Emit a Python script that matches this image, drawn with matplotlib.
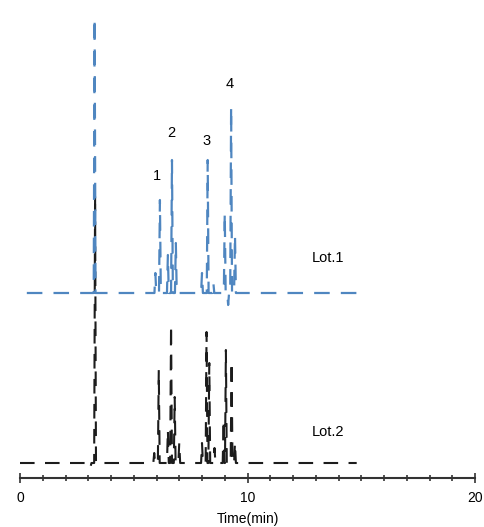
import matplotlib.pyplot as plt
from matplotlib.ticker import MultipleLocator

plt.rcParams["font.family"] = ["Liberation Sans", "DejaVu Sans"]

# retention time (min) and peak height (arbitrary units)
lot1_start, lot1_end = 0.3, 15.0
lot1_times = [3.28, 5.95, 6.15, 6.5, 6.68, 6.85, 8.0, 8.25, 8.5, 9.0, 9.15, 9.28, 9.45]
lot1_heights = [275, 20, 93, 38, 133, 50, 20, 133, 10, 80, -12, 186, 58]

lot2_start, lot2_end = 0.0, 14.8
lot2_times = [3.1, 3.3, 5.9, 6.1, 6.5, 6.64, 6.8, 7.0, 8.0, 8.2, 8.32, 8.55, 8.95, 9.05, 9.3, 9.45]
lot2_heights = [-4, 268, 10, 93, 33, 138, 66, 20, 20, 131, 100, 15, 43, 113, 101, 20]

peak_labels = ["1", "2", "3", "4"]
peak_label_times = [6.0, 6.65, 8.22, 9.2]
peak_label_levels = [302, 345, 337, 394]

lot_names = ["Lot.1", "Lot.2"]
lot_offsets = [185, 15]


def trace(start, end, times, heights, offset, w=0.04):
    xs = [start]
    ys = [offset]
    for t, h in zip(times, heights):
        xs += [t - w, t, t + w]
        ys += [offset, offset + h, offset]
    xs.append(end)
    ys.append(offset)
    return xs, ys


fig = plt.figure(figsize=(4.84, 5.27), dpi=100)
ax = fig.add_axes([20 / 484, 1 - 478 / 527, 455 / 484, 470 / 527])

x1, y1 = trace(lot1_start, lot1_end, lot1_times, lot1_heights, lot_offsets[0])
x2, y2 = trace(lot2_start, lot2_end, lot2_times, lot2_heights, lot_offsets[1])

ax.plot(x2, y2, color="#1c1c1c", lw=1.5, linestyle=(0, (7, 5)))
ax.plot(x1, y1, color="#4f86c0", lw=1.6, linestyle=(0, (7, 5)))

for lab, t, lev in zip(peak_labels, peak_label_times, peak_label_levels):
    ax.text(t, lev, lab, ha="center", va="center", fontsize=10.5)

ax.text(13.55, 220, lot_names[0], ha="center", va="center", fontsize=10.5)
ax.text(13.55, 46, lot_names[1], ha="center", va="center", fontsize=10.5)

ax.set_xlim(0, 20)
ax.set_ylim(0, 470)
ax.set_xticks([0, 10, 20])
ax.xaxis.set_minor_locator(MultipleLocator(1))
ax.tick_params(axis="x", which="major", direction="inout", length=7, width=1.2,
               labelsize=10, pad=6, color="#333333")
ax.tick_params(axis="x", which="minor", direction="inout", length=5, width=1.2,
               color="#333333")
ax.set_yticks([])
for side in ["left", "right", "top"]:
    ax.spines[side].set_visible(False)
ax.spines["bottom"].set_linewidth(1.5)
ax.spines["bottom"].set_color("#333333")
ax.set_xlabel("Time(min)", fontsize=10, labelpad=5)

fig.savefig("out.png", dpi=100)
